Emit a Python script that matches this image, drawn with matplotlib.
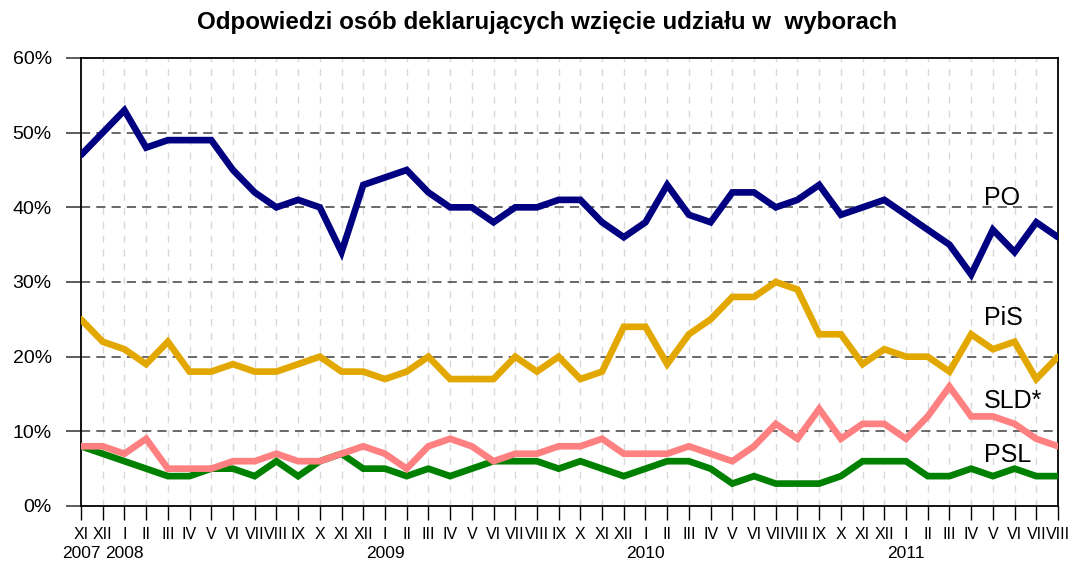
import matplotlib.pyplot as plt
from matplotlib.ticker import FuncFormatter

plt.rcParams["font.family"] = ["Liberation Sans", "DejaVu Sans"]

TITLE = "Odpowiedzi osób deklarujących wzięcie udziału w  wyborach"

# miesiace od XI 2007 do VIII 2011
months = ["XI", "XII", "I", "II", "III", "IV", "V", "VI", "VII", "VIII", "IX", "X",
          "XI", "XII", "I", "II", "III", "IV", "V", "VI", "VII", "VIII", "IX", "X",
          "XI", "XII", "I", "II", "III", "IV", "V", "VI", "VII", "VIII", "IX", "X",
          "XI", "XII", "I", "II", "III", "IV", "V", "VI", "VII", "VIII"]
years = {0: "2007", 2: "2008", 14: "2009", 26: "2010", 38: "2011"}

po = [47, 50, 53, 48, 49, 49, 49, 45, 42, 40, 41, 40, 34, 43, 44, 45, 42, 40, 40, 38,
      40, 40, 41, 41, 38, 36, 38, 43, 39, 38, 42, 42, 40, 41, 43, 39, 40, 41, 39, 37,
      35, 31, 37, 34, 38, 36]
pis = [25, 22, 21, 19, 22, 18, 18, 19, 18, 18, 19, 20, 18, 18, 17, 18, 20, 17, 17, 17,
       20, 18, 20, 17, 18, 24, 24, 19, 23, 25, 28, 28, 30, 29, 23, 23, 19, 21, 20, 20,
       18, 23, 21, 22, 17, 20]
sld = [8, 8, 7, 9, 5, 5, 5, 6, 6, 7, 6, 6, 7, 8, 7, 5, 8, 9, 8, 6,
       7, 7, 8, 8, 9, 7, 7, 7, 8, 7, 6, 8, 11, 9, 13, 9, 11, 11, 9, 12,
       16, 12, 12, 11, 9, 8]
psl = [8, 7, 6, 5, 4, 4, 5, 5, 4, 6, 4, 6, 7, 5, 5, 4, 5, 4, 5, 6,
       6, 6, 5, 6, 5, 4, 5, 6, 6, 5, 3, 4, 3, 3, 3, 4, 6, 6, 6, 4,
       4, 5, 4, 5, 4, 4]

series = [
    ("PO", po, "#000080", 41.2),
    ("PiS", pis, "#E3A800", 25.2),
    ("SLD*", sld, "#FF8080", 14.1),
    ("PSL", psl, "#008000", 6.8),
]

x = list(range(len(months)))

fig = plt.figure(figsize=(10.69, 5.61), dpi=100)
ax = fig.add_axes([81 / 1069, 1 - 506 / 561, 977 / 1069, 448 / 561])

for y in range(10, 60, 10):
    ax.axhline(y, color="#404040", linestyle=(0, (6, 4)), linewidth=1.1, zorder=1)
for xi in x[1:-1]:
    ax.axvline(xi, color="#d8d8d8", linestyle=(0, (5, 5)), linewidth=1.0, zorder=0)

# rysowanie od dolu, zeby PO bylo na wierzchu
for name, values, color, label_y in reversed(series):
    ax.plot(x, values, color=color, linewidth=4.8, solid_joinstyle="miter",
            solid_capstyle="round", zorder=3)
    ax.text(41.6, label_y, name, fontsize=18, va="center", ha="left", zorder=4)

ax.set_xlim(0, len(months) - 1)
ax.set_ylim(0, 60)
ax.set_yticks(range(0, 70, 10))
ax.yaxis.set_major_formatter(FuncFormatter(lambda v, _: f"{v:.0f}%"))
ax.tick_params(axis="y", labelsize=14, length=11, width=1.1, color="#303030", pad=10)

ax.set_xticks(x)
ax.set_xticklabels(months, fontsize=11.5)
ax.tick_params(axis="x", length=10, width=1.0, pad=5)

# lata w drugim wierszu pod miesiacami
for i, year in years.items():
    ax.annotate(year, xy=(i, 0), xycoords=("data", "axes fraction"),
                xytext=(0, -47), textcoords="offset pixels",
                ha="center", va="center", fontsize=12.5)

for side in ("left", "bottom", "right", "top"):
    ax.spines[side].set_linewidth(1.3)

fig.suptitle(TITLE, x=547 / 1069, y=1 - 22 / 561, fontsize=17.4, fontweight="bold",
             va="center")

fig.savefig("out.png", dpi=100)
